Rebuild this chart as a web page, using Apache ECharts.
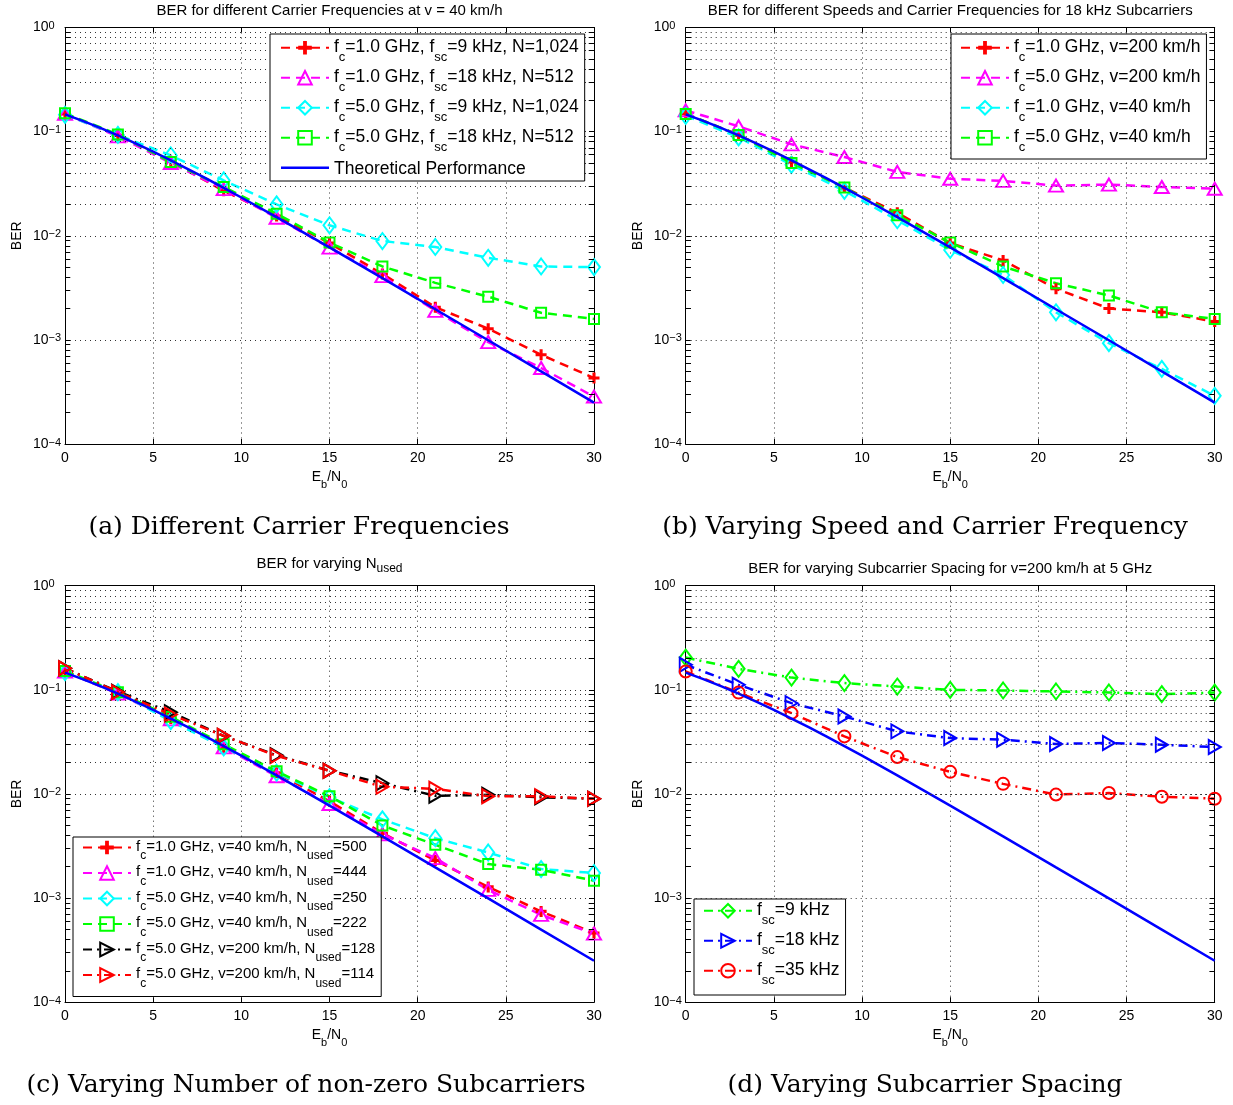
<!DOCTYPE html>
<html>
<head>
<meta charset="utf-8">
<title>BER vs Eb/N0</title>
<script src="https://cdn.jsdelivr.net/npm/echarts@6/dist/echarts.min.js"></script>
<style>
  html, body { margin: 0; padding: 0; background: #ffffff; }
  #chart { width: 1233px; height: 1105px; }
</style>
</head>
<body>
<div id="chart"></div>
<script>
// ---------- data ----------
const ebn0 = [0, 3, 6, 9, 12, 15, 18, 21, 24, 27, 30];

// theoretical curve
const theoryX   = [0, 1, 2, 3, 4, 5, 6, 7, 8, 9, 10, 12, 15, 18, 21, 24, 27, 30];
const theoryBER = [0.1464, 0.1267, 0.1085, 0.0919, 0.0771, 0.0642, 0.0530, 0.0435, 0.0355, 0.0288,
                   0.0233, 0.01507, 0.00772, 0.00392, 0.00197, 0.000992, 0.000498, 0.00025];

// (a) carrier frequency, v = 40 km/h
const aFc1Sc9  = [0.148, 0.092, 0.052, 0.027, 0.0155, 0.0085, 0.0043, 0.00206, 0.00128, 0.00072, 0.00043];
const aFc1Sc18 = [0.148, 0.090, 0.050, 0.028, 0.0149, 0.0077, 0.0041, 0.0019, 0.00095, 0.000537, 0.000285];
const aFc5Sc9  = [0.145, 0.093, 0.059, 0.034, 0.020, 0.0126, 0.0089, 0.0078, 0.00614, 0.00507, 0.0050];
const aFc5Sc18 = [0.150, 0.094, 0.051, 0.0294, 0.0163, 0.0086, 0.00507, 0.00353, 0.0026, 0.00182, 0.00159];

// (b) speed and carrier frequency, 18 kHz subcarriers
const bFc1V200 = [0.148, 0.093, 0.051, 0.029, 0.0166, 0.0085, 0.0058, 0.0031, 0.0020, 0.00184, 0.00150];
const bFc5V200 = [0.160, 0.1125, 0.0755, 0.057, 0.041, 0.0353, 0.0336, 0.0303, 0.031, 0.0294, 0.0283];
const bFc1V40  = [0.142, 0.088, 0.048, 0.027, 0.0141, 0.0073, 0.0042, 0.00184, 0.00093, 0.000526, 0.00029];
const bFc5V40  = [0.148, 0.093, 0.050, 0.029, 0.0157, 0.0086, 0.00507, 0.0035, 0.00267, 0.00184, 0.00159];

// (c) number of used subcarriers
const cN500 = [0.150, 0.093, 0.053, 0.028, 0.0160, 0.0085, 0.0042, 0.0023, 0.00128, 0.000745, 0.000462];
const cN444 = [0.150, 0.092, 0.052, 0.028, 0.0148, 0.0080, 0.0041, 0.00242, 0.0012, 0.00069, 0.000455];
const cN250 = [0.148, 0.095, 0.050, 0.028, 0.0160, 0.0093, 0.0057, 0.00376, 0.00274, 0.0019, 0.00174];
const cN222 = [0.152, 0.095, 0.055, 0.030, 0.0165, 0.0095, 0.00498, 0.00325, 0.00212, 0.00187, 0.00147];
const cN128 = [0.161, 0.096, 0.061, 0.036, 0.0235, 0.0167, 0.0127, 0.0096, 0.0098, 0.0093, 0.0090];
const cN114 = [0.161, 0.095, 0.058, 0.0362, 0.0232, 0.0167, 0.0117, 0.0112, 0.0095, 0.0095, 0.0090];

// (d) subcarrier spacing, v = 200 km/h at 5 GHz
const dSc9  = [0.204, 0.159, 0.131, 0.116, 0.1076, 0.100, 0.0986, 0.0964, 0.0943, 0.0909, 0.094];
const dSc18 = [0.174, 0.1117, 0.0745, 0.0555, 0.0399, 0.0344, 0.0332, 0.0302, 0.0309, 0.0297, 0.0282];
const dSc35 = [0.150, 0.094, 0.0598, 0.0357, 0.0226, 0.0163, 0.0125, 0.00986, 0.0102, 0.0094, 0.009];

// log-axis ticks: decades and the 2..9 minor steps inside each decade
const decades = [0.0001, 0.001, 0.01, 0.1];
const minorSteps = [2, 3, 4, 5, 6, 7, 8, 9];

// legend / title strings ("_x" marks a subscript)
const namesA = ['f_c=1.0 GHz, f_sc=9 kHz, N=1,024', 'f_c=1.0 GHz, f_sc=18 kHz, N=512',
                'f_c=5.0 GHz, f_sc=9 kHz, N=1,024', 'f_c=5.0 GHz, f_sc=18 kHz, N=512', 'Theoretical Performance'];
const namesB = ['f_c=1.0 GHz, v=200 km/h', 'f_c=5.0 GHz, v=200 km/h', 'f_c=1.0 GHz, v=40 km/h', 'f_c=5.0 GHz, v=40 km/h'];
const namesC = ['f_c=1.0 GHz, v=40 km/h, N_used=500', 'f_c=1.0 GHz, v=40 km/h, N_used=444',
                'f_c=5.0 GHz, v=40 km/h, N_used=250', 'f_c=5.0 GHz, v=40 km/h, N_used=222',
                'f_c=5.0 GHz, v=200 km/h, N_used=128', 'f_c=5.0 GHz, v=200 km/h, N_used=114'];
const namesD = ['f_sc=9 kHz', 'f_sc=18 kHz', 'f_sc=35 kHz'];
const titles = ['BER for different Carrier Frequencies at v = 40 km/h',
                'BER for different Speeds and Carrier Frequencies for 18 kHz Subcarriers',
                'BER for varying N_used',
                'BER for varying Subcarrier Spacing for v=200 km/h at 5 GHz'];
const captions = ['(a) Different Carrier Frequencies', '(b) Varying Speed and Carrier Frequency',
                  '(c) Varying Number of non-zero Subcarriers', '(d) Varying Subcarrier Spacing'];

// ---------- styling ----------
const SANS = '"Liberation Sans", Arial, Helvetica, sans-serif';
const SERIF = '"DejaVu Serif", "Liberation Serif", serif';
const PLUS = 'path://M3.6,0H6.4V3.6H10V6.4H6.4V10H3.6V6.4H0V3.6H3.6Z';
const PLAIN_LINE_ICON = 'path://M0,0L0,0M0,7.3H48V9.7H0ZM48,17L48,17';
const DASH = [9, 6];
const DASHDOT = [9, 5, 2, 5];
const GRIDLINE = { color: '#333', width: 1, type: [1, 4] };
const TICKLINE = { color: '#000', width: 1, type: 'solid' };

const RED = '#ff0000', MAGENTA = '#ff00ff', CYAN = '#00ffff', GREEN = '#00ff00', BLUE = '#0000ff', BLACK = '#000000';

const MARK = {
  plus:  { symbol: PLUS, size: 11, filled: true },
  tri:   { symbol: 'triangle', size: [14, 12] },
  dia:   { symbol: 'diamond', size: [12, 16] },
  sq:    { symbol: 'rect', size: 10 },
  rtri:  { symbol: 'triangle', size: [14, 12], rotate: -90 },
  circ:  { symbol: 'circle', size: 12 }
};

// panel frames
const PW = 529, PH = 416.5;
const frames = [
  { left: 65, top: 27.5 }, { left: 685.7, top: 27.5 },
  { left: 65, top: 585.7 }, { left: 685.7, top: 585.7 }
];

// turn "a_b" into rich text with subscripts
function sub(str) {
  const parts = str.split(/_([A-Za-z0-9]+)/);
  return parts.map((p, i) => p ? '{' + (i % 2 ? 's' : 'n') + '|' + p + '}' : '').join('');
}
function legendText(str) {
  return str.indexOf('_') < 0 ? '{t|' + str + '}' : sub(str);
}
function subRich(main, small, drop) {
  return {
    n: { fontSize: main, lineHeight: main + 2, verticalAlign: 'top', fontFamily: SANS, color: '#000' },
    s: { fontSize: small, lineHeight: small, verticalAlign: 'top', padding: [drop, 0, 0, 0], fontFamily: SANS, color: '#000' },
    t: { fontSize: main, lineHeight: main + 2, verticalAlign: 'top', padding: [2, 0, 0, 0], fontFamily: SANS, color: '#000' }
  };
}

function powLabel(v) {
  const e = Math.round(Math.log10(v));
  return '{b|10}{e|' + (e < 0 ? '\u2212' + (-e) : String(e)) + '}';
}

const grid = [], xAxis = [], yAxis = [], series = [], legend = [], graphic = [];

frames.forEach((f, i) => {
  grid.push({ left: f.left, top: f.top, width: PW, height: PH });

  const frameLine = { show: true, onZero: false, lineStyle: { color: '#000', width: 1 } };
  const tick = { show: true, inside: true, length: 5, lineStyle: { color: '#000', width: 1 } };

  xAxis.push({
    type: 'value', gridIndex: i, position: 'bottom', min: 0, max: 30, interval: 5,
    axisLine: frameLine, axisTick: tick,
    axisLabel: { margin: 7, color: '#000', fontFamily: SANS, fontSize: 14 },
    splitLine: { show: true, lineStyle: GRIDLINE },
    name: sub('E_b/N_0'), nameLocation: 'middle', nameGap: 26,
    nameTextStyle: { rich: subRich(14, 11, 9) }
  });
  xAxis.push({
    type: 'value', gridIndex: i, position: 'top', min: 0, max: 30, interval: 5,
    axisLine: frameLine, axisTick: tick, axisLabel: { show: false }, splitLine: { show: false }
  });
  yAxis.push({
    type: 'log', logBase: 10, gridIndex: i, position: 'left', min: 0.0001, max: 1,
    axisLine: frameLine, axisTick: tick,
    splitLine: { show: true, lineStyle: GRIDLINE },
    axisLabel: {
      formatter: powLabel, align: 'left', margin: 32,
      rich: {
        b: { fontSize: 14, lineHeight: 14, verticalAlign: 'bottom', fontFamily: SANS, color: '#000' },
        e: { fontSize: 11, lineHeight: 11, verticalAlign: 'top', padding: [0, 0, 5, 0], fontFamily: SANS, color: '#000' }
      }
    },
    name: 'BER', nameLocation: 'middle', nameGap: 41,
    nameTextStyle: { fontFamily: SANS, fontSize: 14, color: '#000' }
  });
  yAxis.push({
    type: 'log', logBase: 10, gridIndex: i, position: 'right', min: 0.0001, max: 1,
    axisLine: frameLine, axisTick: tick,
    axisLabel: { show: false }, splitLine: { show: false }
  });

  // minor grid lines and minor ticks of the log axis
  const marks = [];
  decades.forEach(d => minorSteps.forEach(m => {
    const v = d * m;
    marks.push({ yAxis: v, lineStyle: GRIDLINE });
    marks.push([{ coord: [0, v], lineStyle: TICKLINE }, { coord: [0.3, v] }]);
    marks.push([{ coord: [29.7, v], lineStyle: TICKLINE }, { coord: [30, v] }]);
  }));
  series.push({
    type: 'line', name: 'log-grid-' + i, xAxisIndex: i * 2, yAxisIndex: i * 2,
    data: [[0, 1]], symbol: 'none', showSymbol: false, lineStyle: { width: 0 },
    silent: true, z: 1,
    markLine: { silent: true, symbol: ['none', 'none'], label: { show: false }, animation: false, data: marks }
  });
});

function curve(panel, name, ys, color, mark, dash) {
  const m = MARK[mark];
  series.push({
    type: 'line', name: name,
    xAxisIndex: panel * 2, yAxisIndex: panel * 2,
    data: ebn0.map((x, k) => [x, ys[k]]),
    symbol: m.symbol, symbolSize: m.size, symbolRotate: m.rotate || 0, showSymbol: true,
    lineStyle: { color: color, width: 2.5, type: dash },
    itemStyle: m.filled
      ? { color: color, borderWidth: 0 }
      : { color: 'rgba(255,255,255,0)', borderColor: color, borderWidth: 2 },
    emphasis: { disabled: true }, silent: true, z: 3
  });
}
function theory(panel, name) {
  series.push({
    type: 'line', name: name,
    xAxisIndex: panel * 2, yAxisIndex: panel * 2,
    data: theoryX.map((x, k) => [x, theoryBER[k]]),
    symbol: 'none',
    lineStyle: { color: BLUE, width: 2.5, type: 'solid' },
    itemStyle: { color: BLUE },
    emphasis: { disabled: true }, silent: true, z: 4
  });
}

// (a)
curve(0, namesA[0], aFc1Sc9, RED, 'plus', DASH);
curve(0, namesA[1], aFc1Sc18, MAGENTA, 'tri', DASH);
curve(0, namesA[2], aFc5Sc9, CYAN, 'dia', DASH);
curve(0, namesA[3], aFc5Sc18, GREEN, 'sq', DASH);
theory(0, namesA[4]);
// (b)
curve(1, namesB[0], bFc1V200, RED, 'plus', DASH);
curve(1, namesB[1], bFc5V200, MAGENTA, 'tri', DASH);
curve(1, namesB[2], bFc1V40, CYAN, 'dia', DASH);
curve(1, namesB[3], bFc5V40, GREEN, 'sq', DASH);
theory(1, 'theory-b');
// (c)
curve(2, namesC[0], cN500, RED, 'plus', DASH);
curve(2, namesC[1], cN444, MAGENTA, 'tri', DASH);
curve(2, namesC[2], cN250, CYAN, 'dia', DASH);
curve(2, namesC[3], cN222, GREEN, 'sq', DASH);
curve(2, namesC[4], cN128, BLACK, 'rtri', DASHDOT);
curve(2, namesC[5], cN114, RED, 'rtri', DASHDOT);
theory(2, 'theory-c');
// (d)
curve(3, namesD[0], dSc9, GREEN, 'dia', DASHDOT);
curve(3, namesD[1], dSc18, BLUE, 'rtri', DASHDOT);
curve(3, namesD[2], dSc35, RED, 'circ', DASHDOT);
theory(3, 'theory-d');

function box(items, left, top, fontSize, subSize, drop, gap, pad) {
  return {
    orient: 'vertical', left: left, top: top, data: items, selectedMode: false,
    backgroundColor: '#ffffff', borderColor: '#000', borderWidth: 1, borderRadius: 0,
    padding: pad, itemGap: gap, itemWidth: 48, itemHeight: 17,
    formatter: legendText,
    textStyle: { color: '#000', fontFamily: SANS, fontSize: fontSize, rich: subRich(fontSize, subSize, drop) },
    z: 10
  };
}
const itemsA = namesA.slice(0, 4).concat([{ name: namesA[4], icon: PLAIN_LINE_ICON }]);
legend.push(box(itemsA, 270, 34, 17.5, 13, 13, 4, [4, 6, 3, 10]));
legend.push(box(namesB, 951, 34, 17.5, 13, 13, 4, [4, 6, 5, 9]));
legend.push(box(namesC, 73, 837, 15, 12, 11, 2.5, [2, 6, 7, 9]));
legend.push(box(namesD, 694, 899, 17.5, 13, 13, 4, [2, 6, 8, 9]));

// panel titles
const titleY = [12, 12, 556, 570];
titles.forEach((t, i) => {
  const cx = frames[i].left + PW / 2;
  graphic.push({
    type: 'text', x: cx, y: titleY[i], silent: true,
    style: {
      text: sub(t), rich: subRich(15, 12, 7),
      align: 'center', verticalAlign: i === 2 ? 'top' : 'middle',
      fontFamily: SANS, fontSize: 15, fill: '#000'
    }
  });
});
// sub-figure captions
const capPos = [[299, 527], [925, 527], [306, 1085], [925, 1085]];
captions.forEach((c, i) => {
  graphic.push({
    type: 'text', x: capPos[i][0], y: capPos[i][1], silent: true,
    style: { text: c, align: 'center', verticalAlign: 'middle', fontFamily: SERIF, fontSize: 25, fill: '#000' }
  });
});

const chart = echarts.init(document.getElementById('chart'), null, { renderer: 'canvas' });
chart.setOption({
  animation: false,
  backgroundColor: '#ffffff',
  grid: grid, xAxis: xAxis, yAxis: yAxis,
  series: series, legend: legend, graphic: graphic
});
</script>
</body>
</html>
